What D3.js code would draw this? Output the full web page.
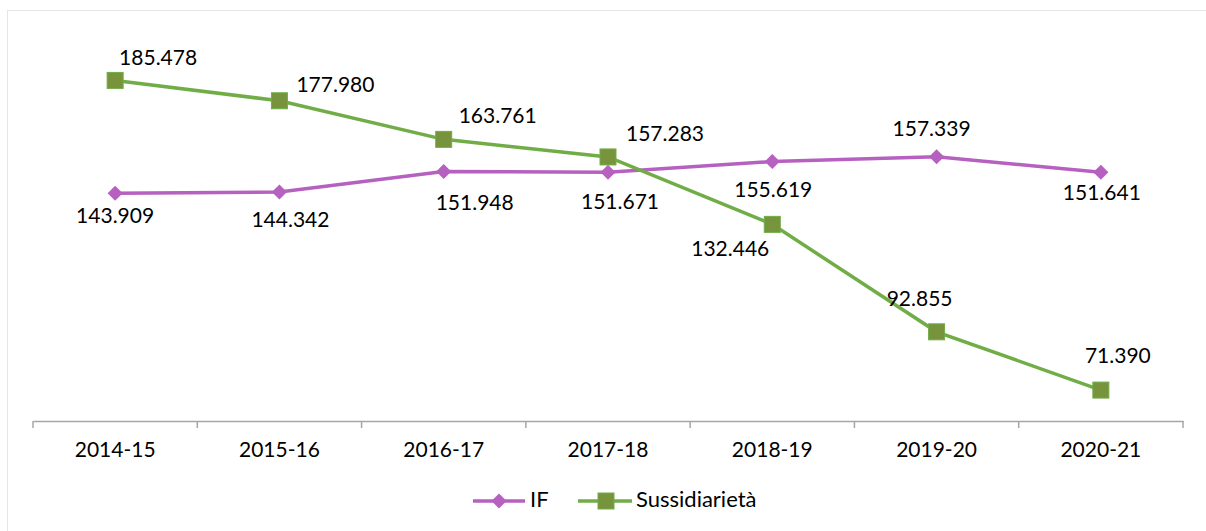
<!DOCTYPE html>
<html>
<head>
<meta charset="utf-8">
<script src="https://cdn.jsdelivr.net/npm/d3@7"></script>
<style>
  body { margin: 0; background: #fff; }
  text { font-family: Lato, "Open Sans", sans-serif; fill: #000; }
</style>
</head>
<body>
<div id="chart"></div>
<script>
var years = ["2014-15", "2015-16", "2016-17", "2017-18", "2018-19", "2019-20", "2020-21"];
var ifValues = [143.909, 144.342, 151.948, 151.671, 155.619, 157.339, 151.641];
var sussValues = [185.478, 177.980, 163.761, 157.283, 132.446, 92.855, 71.390];
var seriesNames = ["IF", "Sussidiarietà"];

// label offsets from marker (dx, dy), as placed in the original
var ifOffsets = [[0, 24], [11, 30], [31, 33], [12, 32], [1, 30], [-5, -26], [1, 22]];
var sussOffsets = [[43, -21], [56, -14], [54, -22], [57, -21], [-42, 26], [-17, -31], [17, -32]];

var w = 1206, h = 531;
var purple = "#b660c0", green = "#70ad47", squareFill = "#77933c";

var svg = d3.select("#chart").append("svg")
    .attr("width", w)
    .attr("height", h);

svg.append("rect")
    .attr("x", 7.5).attr("y", 10.5)
    .attr("width", w).attr("height", h)
    .attr("fill", "none")
    .attr("stroke", "#e6e6e6");

var x = d3.scaleBand()
    .domain(years)
    .range([33, 1183]);
var y = d3.scaleLinear()
    .domain([60, 200])
    .range([421, 41]);

var fmt = d3.format(".3f");

var xaxis = d3.axisBottom(x).tickSize(0).tickPadding(0);
var gx = svg.append("g")
    .attr("transform", "translate(0,421)")
    .call(xaxis);
gx.select(".domain").attr("stroke", "#a6a6a6").attr("stroke-width", 1.5);
gx.selectAll("text")
    .attr("dy", null)
    .attr("y", 31)
    .attr("dominant-baseline", "middle")
    .style("font-size", "21px")
    .style("font-family", "Lato, sans-serif")
    .attr("fill", "#000");

// category boundary ticks
var bounds = years.map(function (d) { return x(d); }).concat([x.range()[1]]);
svg.selectAll(".btick")
    .data(bounds)
    .enter().append("line")
    .attr("class", "btick")
    .attr("x1", function (d) { return d; })
    .attr("x2", function (d) { return d; })
    .attr("y1", 421)
    .attr("y2", 428)
    .attr("stroke", "#a6a6a6")
    .attr("stroke-width", 1.5);

function cx(i) { return x(years[i]) + x.bandwidth() / 2; }

var line = d3.line()
    .x(function (d, i) { return cx(i); })
    .y(function (d) { return y(d); });

svg.append("path")
    .datum(ifValues)
    .attr("d", line)
    .attr("fill", "none")
    .attr("stroke", purple)
    .attr("stroke-width", 3.5);

svg.append("path")
    .datum(sussValues)
    .attr("d", line)
    .attr("fill", "none")
    .attr("stroke", green)
    .attr("stroke-width", 3.5);

var diamond = d3.symbol().type(d3.symbolDiamond2).size(120);

svg.selectAll(".ifm")
    .data(ifValues)
    .enter().append("path")
    .attr("class", "ifm")
    .attr("d", diamond)
    .attr("transform", function (d, i) { return "translate(" + cx(i) + "," + y(d) + ") scale(1.1)"; })
    .attr("fill", purple);

svg.selectAll(".sm")
    .data(sussValues)
    .enter().append("rect")
    .attr("class", "sm")
    .attr("x", function (d, i) { return cx(i) - 8; })
    .attr("y", function (d) { return y(d) - 8; })
    .attr("width", 16)
    .attr("height", 16)
    .attr("fill", squareFill)
    .attr("stroke", green)
    .attr("stroke-width", 1);

svg.selectAll(".ifl")
    .data(ifValues)
    .enter().append("text")
    .attr("class", "ifl")
    .attr("x", function (d, i) { return cx(i) + ifOffsets[i][0]; })
    .attr("y", function (d, i) { return y(d) + ifOffsets[i][1]; })
    .attr("text-anchor", "middle")
    .attr("dominant-baseline", "middle")
    .style("font-size", "21px")
    .text(function (d) { return fmt(d); });

svg.selectAll(".sl")
    .data(sussValues)
    .enter().append("text")
    .attr("class", "sl")
    .attr("x", function (d, i) { return cx(i) + sussOffsets[i][0]; })
    .attr("y", function (d, i) { return y(d) + sussOffsets[i][1]; })
    .attr("text-anchor", "middle")
    .attr("dominant-baseline", "middle")
    .style("font-size", "21px")
    .text(function (d) { return fmt(d); });

// legend
var leg = svg.append("g").attr("transform", "translate(0,501)");
leg.append("line").attr("x1", 473).attr("x2", 525).attr("y1", 0).attr("y2", 0)
    .attr("stroke", purple).attr("stroke-width", 3.5);
leg.append("path").attr("d", diamond).attr("transform", "translate(499,0) scale(1.1)").attr("fill", purple);
leg.append("text").attr("x", 530).attr("y", 0).attr("dominant-baseline", "middle")
    .style("font-size", "22px").text(seriesNames[0]);
leg.append("line").attr("x1", 578).attr("x2", 632).attr("y1", 0).attr("y2", 0)
    .attr("stroke", green).attr("stroke-width", 3.5);
leg.append("rect").attr("x", 598).attr("y", -8).attr("width", 16).attr("height", 16)
    .attr("fill", squareFill).attr("stroke", green);
leg.append("text").attr("x", 636).attr("y", 0).attr("dominant-baseline", "middle")
    .style("font-size", "22px").text(seriesNames[1]);
</script>
</body>
</html>
